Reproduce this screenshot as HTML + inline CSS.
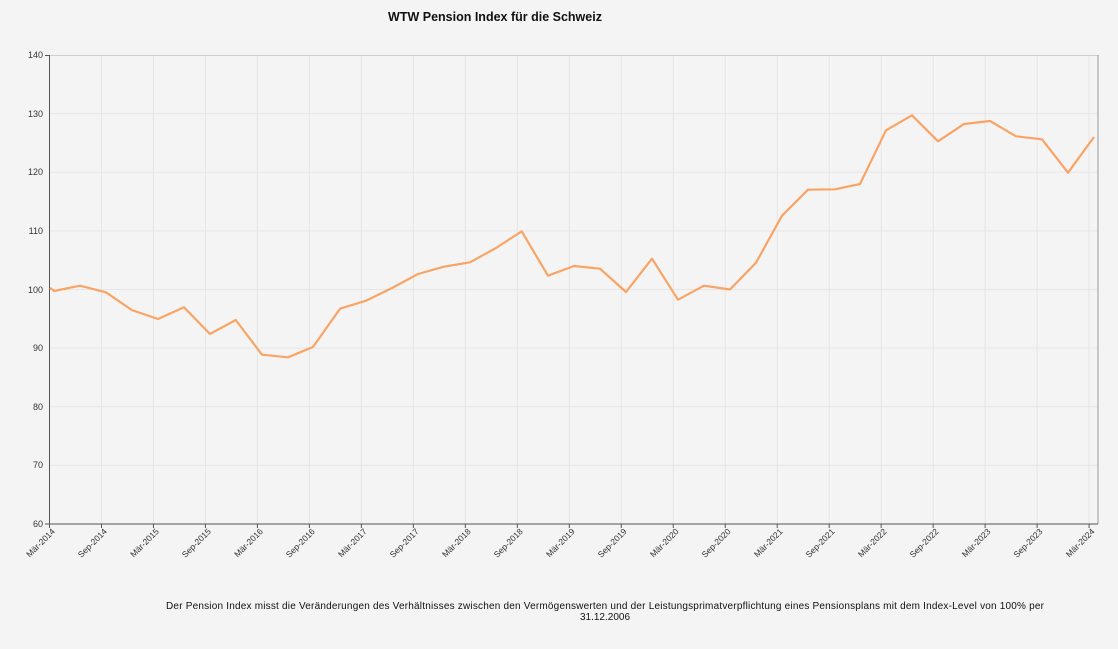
<!DOCTYPE html>
<html><head><meta charset="utf-8"><style>
html,body{margin:0;padding:0;background:#f4f4f4;}
svg{display:block;font-family:"Liberation Sans",Arial,sans-serif;}
</style></head><body>
<svg width="1118" height="649" viewBox="0 0 1118 649">
<rect width="1118" height="649" fill="#f4f4f4"/>
<text x="495" y="21" text-anchor="middle" font-size="12.5" font-weight="bold" fill="#111">WTW Pension Index für die Schweiz</text>
<g stroke="#e6e6e6" stroke-width="1">
<line x1="50" y1="113.6" x2="1098" y2="113.6"/><line x1="50" y1="172.3" x2="1098" y2="172.3"/>
<line x1="50" y1="230.9" x2="1098" y2="230.9"/><line x1="50" y1="289.5" x2="1098" y2="289.5"/>
<line x1="50" y1="348.1" x2="1098" y2="348.1"/><line x1="50" y1="406.8" x2="1098" y2="406.8"/>
<line x1="50" y1="465.4" x2="1098" y2="465.4"/>
</g>
<g id="vg" stroke="#e6e6e6" stroke-width="1"></g>
<line x1="50" y1="55.5" x2="1098" y2="55.5" stroke="#cfcfcf"/>
<line x1="1098" y1="55" x2="1098" y2="524" stroke="#999"/>
<line x1="49.5" y1="55" x2="49.5" y2="524" stroke="#555"/>
<line x1="49" y1="524" x2="1098" y2="524" stroke="#555"/>
<g font-size="9" fill="#333" text-anchor="end">
<text x="43" y="58">140</text><text x="43" y="117">130</text><text x="43" y="175">120</text>
<text x="43" y="234">110</text><text x="43" y="293">100</text><text x="43" y="351">90</text>
<text x="43" y="410">80</text><text x="43" y="468">70</text><text x="43" y="527">60</text>
</g>
<g stroke="#555"><line x1="45" y1="55.5" x2="49" y2="55.5"/><line x1="45" y1="524" x2="49" y2="524"/></g>
<g id="xl" font-size="8.5" fill="#333" text-anchor="end"></g>
<polyline fill="none" stroke="#f9a465" stroke-width="2.2" stroke-linejoin="round" points="50,287.7 54,291 80,285.7 106,292.3 131.7,310 158,319 184,307.3 210,334 235.7,320 262,354.7 288,357.3 313,347 340,308.7 366,300.7 392,288 418,274 444,266.7 470,262.3 496,248 521.7,231.3 548,275.7 574,266 600,268.7 626,292 652,258.7 678,299.7 704,285.7 730,289.5 756,262.7 782,215.7 808,189.7 835,189.3 860,184 886,130.3 912,115.3 938,141.3 964,124 990,121 1016,136.3 1042,139.3 1068,172.7 1094,137"/>
<text x="605" y="609" text-anchor="middle" font-size="10" fill="#111" textLength="878" lengthAdjust="spacing">Der Pension Index misst die Veränderungen  des Verhältnisses zwischen den Vermögenswerten und der Leistungsprimatverpflichtung eines Pensionsplans mit dem  Index-Level von 100% per</text>
<text x="605" y="620" text-anchor="middle" font-size="10" fill="#111">31.12.2006</text>
</svg>
<script>
var ns="http://www.w3.org/2000/svg",vg=document.getElementById("vg"),xl=document.getElementById("xl");
var labs=[];for(var y=2014;y<=2024;y++){labs.push("Mär-"+y);if(y<2024)labs.push("Sep-"+y);}
labs.forEach(function(t,i){var x=49.5+i*51.98;
if(i>0){var l=document.createElementNS(ns,"line");l.setAttribute("x1",x);l.setAttribute("x2",x);l.setAttribute("y1",55);l.setAttribute("y2",524);vg.appendChild(l);}
var tk=document.createElementNS(ns,"line");tk.setAttribute("x1",x);tk.setAttribute("x2",x);tk.setAttribute("y1",524);tk.setAttribute("y2",528);tk.setAttribute("stroke","#555");xl.appendChild(tk);
var e=document.createElementNS(ns,"text");e.setAttribute("transform","translate("+(x+6)+",532) rotate(-45)");e.textContent=t;xl.appendChild(e);});
</script>
</body></html>
